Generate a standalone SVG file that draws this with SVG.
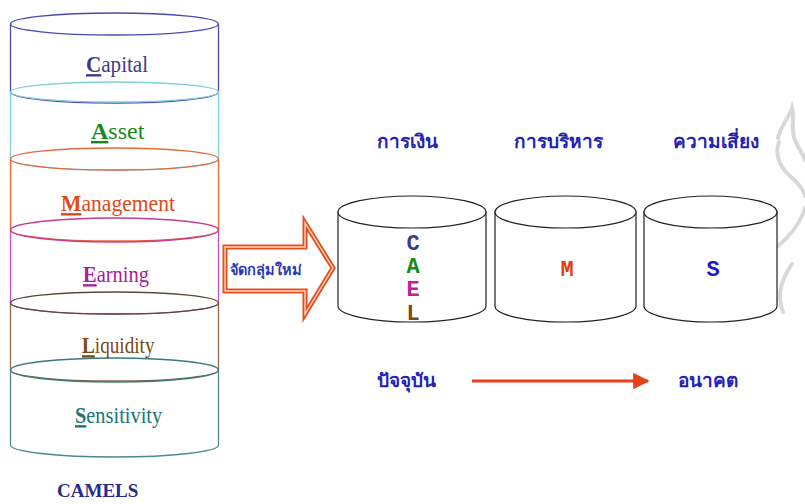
<svg xmlns="http://www.w3.org/2000/svg" width="805" height="504" viewBox="0 0 805 504">
<defs>
<style>
.cyl{fill:none;stroke-width:1.3}
.lbl{font-family:"Liberation Serif",serif;font-size:24px}
.ini{font-family:"Liberation Serif",serif;font-size:24px;font-weight:bold;text-decoration:underline}
.rc{fill:#fff;stroke:#222;stroke-width:1.2}
.big{font-family:"Liberation Mono","DejaVu Sans Mono",monospace;font-weight:bold;font-size:22px;text-anchor:middle}
.th{font-family:"Noto Sans","DejaVu Sans",sans-serif;font-weight:bold;fill:#2222b4;text-anchor:middle;font-size:19px}
.wm{fill:none;stroke:#d8d8d8;stroke-width:4;stroke-linecap:round}
</style>
<marker id="ah" viewBox="0 0 10 10" refX="9" refY="5" markerWidth="5.5" markerHeight="5.5" orient="auto" markerUnits="strokeWidth">
<path d="M0,0 L10,5 L0,10 Z" fill="#e8401a"/>
</marker>
</defs>
<rect width="805" height="504" fill="#fff"/>

<g id="watermark">
<path class="wm" d="M778,138 C781,125 789,118 792,108 C795,120 790,128 795,140 C799,150 804,155 805,160"/>
<path class="wm" d="M779,142 C775,152 778,166 790,176 C798,183 804,190 805,196"/>
<path class="wm" d="M805,208 C800,225 790,236 778,246"/>
<path class="wm" d="M792,264 C784,276 775,292 783,312"/>
</g>

<g id="capital">
<path class="cyl" stroke="#4a4ab0" d="M10.5,24 L10.5,92 A104,11 0 0 0 218.5,92 L218.5,24"/>
<ellipse class="cyl" stroke="#4a4ab0" cx="114.5" cy="24" rx="104" ry="11"/>
<g transform="translate(86,72) scale(0.88,1)" fill="#3c3c8c">
<text class="ini" x="0" y="0">C</text>
<text class="lbl" x="17.3" y="0">apital</text>
</g>
</g>
<g id="asset">
<path class="cyl" stroke="#7fd0d8" d="M10.5,92 L10.5,159 A104,11 0 0 0 218.5,159 L218.5,92"/>
<ellipse class="cyl" stroke="#7fd0d8" cx="114.5" cy="92" rx="104" ry="10"/>
<g transform="translate(91,139) scale(1,1)" fill="#1a8a1a">
<text class="ini" x="0" y="0">A</text>
<text class="lbl" x="17.3" y="0">sset</text>
</g>
</g>
<g id="management">
<path class="cyl" stroke="#e8683c" d="M10.5,159 L10.5,230 A104,11 0 0 0 218.5,230 L218.5,159"/>
<ellipse class="cyl" stroke="#e8683c" cx="114.5" cy="159" rx="104" ry="11"/>
<g transform="translate(61,211) scale(0.9,1)" fill="#e04a14">
<text class="ini" x="0" y="0">M</text>
<text class="lbl" x="22.7" y="0">anagement</text>
</g>
</g>
<g id="earning">
<path class="cyl" stroke="#c850c0" d="M10.5,230 L10.5,303 A104,11 0 0 0 218.5,303 L218.5,230"/>
<ellipse class="cyl" stroke="#c83c90" cx="114.5" cy="230" rx="104" ry="12"/>
<g transform="translate(83,282) scale(0.855,1)" fill="#a8209c">
<text class="ini" x="0" y="0">E</text>
<text class="lbl" x="16" y="0">arning</text>
</g>
</g>
<g id="liquidity">
<path class="cyl" stroke="#8a6a48" d="M10.5,303 L10.5,370 A104,11 0 0 0 218.5,370 L218.5,303"/>
<ellipse class="cyl" stroke="#5a4a3a" cx="114.5" cy="303" rx="104" ry="11"/>
<g transform="translate(82,353) scale(0.8,1)" fill="#7a4a10">
<text class="ini" x="0" y="0">L</text>
<text class="lbl" x="16" y="0">iquidity</text>
</g>
</g>
<g id="sensitivity">
<path class="cyl" stroke="#4a8a8a" d="M10.5,370 L10.5,445 A104,12 0 0 0 218.5,445 L218.5,370"/>
<ellipse class="cyl" stroke="#3a7a7a" cx="114.5" cy="370" rx="104" ry="12"/>
<g transform="translate(75,423) scale(0.85,1)" fill="#207474">
<text class="ini" x="0" y="0">S</text>
<text class="lbl" x="13.3" y="0">ensitivity</text>
</g>
</g>
<g id="camels">
<text x="57" y="497" font-family="Liberation Serif,serif" font-weight="bold" font-size="19" fill="#2a2a8c">CAMELS</text>
</g>

<g id="regroup">
<path d="M225,247 L305,247 L305,223 L333,268 L305,314 L305,291 L225,291 Z" fill="#fff" stroke="#e2501e" stroke-width="5" stroke-linejoin="miter"/>
<path d="M225,247 L305,247 L305,223 L333,268 L305,314 L305,291 L225,291 Z" fill="none" stroke="#fbd4c0" stroke-width="1.4"/>
<text x="266" y="275" font-family="Noto Sans,DejaVu Sans,sans-serif" font-weight="bold" font-size="14.5" fill="#2a3ab4" text-anchor="middle">จัดกลุ่มใหม่</text>
</g>

<g id="finance">
<text class="th" x="407" y="148">การเงิน</text>
<path class="rc" d="M338,212 L338,306 A74,16 0 0 0 486,306 L486,212 Z"/>
<ellipse class="rc" cx="412" cy="212" rx="74" ry="16"/>
<text class="big" x="413" y="250" fill="#3a3a8c">C</text>
<text class="big" x="413" y="273" fill="#1a8a1a">A</text>
<text class="big" x="413" y="296" fill="#c0209a">E</text>
<text class="big" x="413" y="320" fill="#7a4a10">L</text>
</g>
<g id="management2">
<text class="th" x="558" y="148">การบริหาร</text>
<path class="rc" d="M495,212 L495,306 A70.5,16 0 0 0 636,306 L636,212 Z"/>
<ellipse class="rc" cx="565.5" cy="212" rx="70.5" ry="16"/>
<text class="big" x="567" y="276" fill="#e04010">M</text>
</g>
<g id="risk">
<text class="th" x="716" y="148">ความเสี่ยง</text>
<path class="rc" d="M644,212 L644,306 A66.5,16 0 0 0 777,306 L777,212 Z"/>
<ellipse class="rc" cx="710.5" cy="212" rx="66.5" ry="16"/>
<text class="big" x="713" y="276" fill="#1a1ac0">S</text>
</g>

<g id="present"><text class="th" x="406" y="387">ปัจจุบัน</text></g>
<g id="future"><text class="th" x="708" y="387">อนาคต</text></g>

<g id="connectors">
<line x1="472" y1="381" x2="648" y2="381" stroke="#e8401a" stroke-width="3" marker-end="url(#ah)"/>
</g>
</svg>
